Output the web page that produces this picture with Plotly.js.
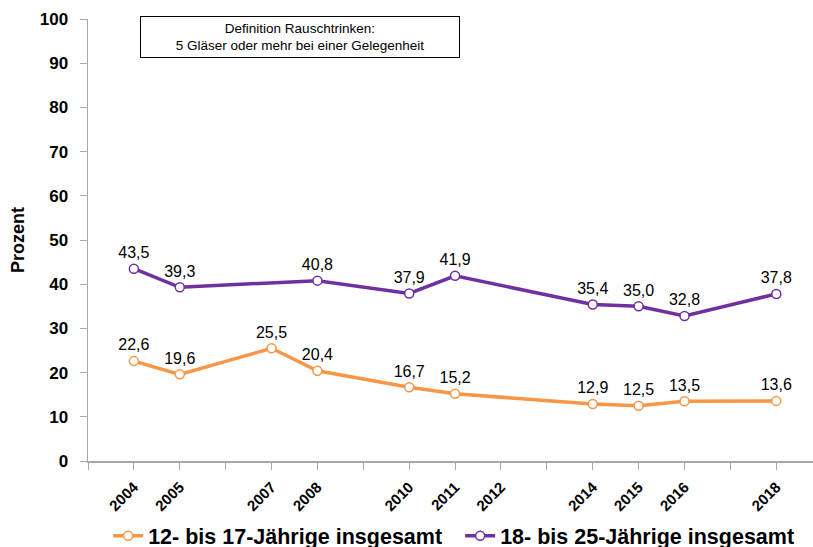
<!DOCTYPE html>
<html>
<head>
<meta charset="utf-8">
<script src="https://cdn.plot.ly/plotly-3.0.1.min.js"></script>
<style>
  html, body { margin: 0; padding: 0; background: #fff; }
  #chart { width: 813px; height: 547px; }
</style>
</head>
<body>
<div id="chart"></div>
<script>
// Rauschtrinken, Anteile in Prozent
let yearsYouth = [2004, 2005, 2007, 2008, 2010, 2011, 2014, 2015, 2016, 2018];
let valuesYouth = [22.6, 19.6, 25.5, 20.4, 16.7, 15.2, 12.9, 12.5, 13.5, 13.6];

let yearsAdults = [2004, 2005, 2008, 2010, 2011, 2014, 2015, 2016, 2018];
let valuesAdults = [43.5, 39.3, 40.8, 37.9, 41.9, 35.4, 35.0, 32.8, 37.8];

let labelYears = [2004, 2005, 2007, 2008, 2010, 2011, 2012, 2014, 2015, 2016, 2018];

let nameYouth = '12- bis 17-Jährige insgesamt';
let nameAdults = '18- bis 25-Jährige insgesamt';

let orange = '#F79646';
let purple = '#7030A0';
let font = 'Liberation Sans, Arial, sans-serif';

// german decimal comma
function fmt(v) {
    return v.toFixed(1).replace('.', ',');
}

// a tick for every year, text only for the labelled ones
let tickVals = [];
let tickText = [];
for (let y = 2003; y <= 2018; y++) {
    tickVals.push(y);
    tickText.push(labelYears.includes(y) ? String(y) : '');
}

function makeTrace(x, y, name, color) {
    return {
        x: x,
        y: y,
        name: name,
        type: 'scatter',
        mode: 'lines+markers+text',
        text: y.map(fmt),
        textposition: 'top center',
        textfont: { family: font, size: 16, color: '#000' },
        line: { color: color, width: 3.5 },
        marker: { size: 9, color: '#fff', line: { color: color, width: 1.5 } },
        cliponaxis: false
    };
}

let traces = [
    makeTrace(yearsYouth, valuesYouth, nameYouth, orange),
    makeTrace(yearsAdults, valuesAdults, nameAdults, purple)
];

let layout = {
    width: 813,
    height: 547,
    margin: { l: 88, r: 0, t: 19, b: 86 },
    paper_bgcolor: '#fff',
    plot_bgcolor: '#fff',
    font: { family: font, color: '#000' },
    showlegend: true,
    legend: {
        orientation: 'h',
        xref: 'container',
        yref: 'container',
        x: 0.133,
        xanchor: 'left',
        y: 0.058,
        yanchor: 'top',
        font: { family: font, size: 21.5, weight: 'bold', color: '#000' },
        itemwidth: 30,
        entrywidth: 307,
        entrywidthmode: 'pixels',
        tracegroupgap: 0
    },
    xaxis: {
        range: [2003, 2018.8],
        tickmode: 'array',
        tickvals: tickVals,
        ticktext: tickText,
        tickangle: -45,
        tickfont: { family: font, size: 15, weight: 'bold', color: '#000' },
        ticks: 'outside',
        ticklen: 7,
        tickcolor: '#a6a6a6',
        ticklabelstandoff: 3,
        showline: true,
        linecolor: '#a6a6a6',
        linewidth: 1.5,
        showgrid: false,
        zeroline: false,
        automargin: false,
        fixedrange: true
    },
    yaxis: {
        range: [0, 100],
        tickvals: [0, 10, 20, 30, 40, 50, 60, 70, 80, 90, 100],
        tickfont: { family: font, size: 17, weight: 'bold', color: '#000' },
        ticks: 'outside',
        ticklen: 7,
        tickcolor: '#a6a6a6',
        ticklabelstandoff: 8,
        showline: true,
        linecolor: '#a6a6a6',
        linewidth: 1.5,
        showgrid: false,
        zeroline: false,
        automargin: false,
        title: { text: 'Prozent', font: { family: font, size: 18, weight: 'bold', color: '#000' }, standoff: 10 },
        fixedrange: true
    },
    annotations: [{
        xref: 'paper',
        yref: 'paper',
        x: 0.2924,
        y: 0.959,
        xanchor: 'center',
        yanchor: 'middle',
        text: 'Definition Rauschtrinken:<br>5 Gläser oder mehr bei einer Gelegenheit',
        showarrow: false,
        align: 'center',
        font: { family: font, size: 13.5, color: '#000' },
        width: 316,
        height: 38,
        bordercolor: '#000',
        borderwidth: 1,
        borderpad: 1,
        bgcolor: '#fff'
    }]
};

Plotly.newPlot('chart', traces, layout, { displayModeBar: false, staticPlot: true });
</script>
</body>
</html>
